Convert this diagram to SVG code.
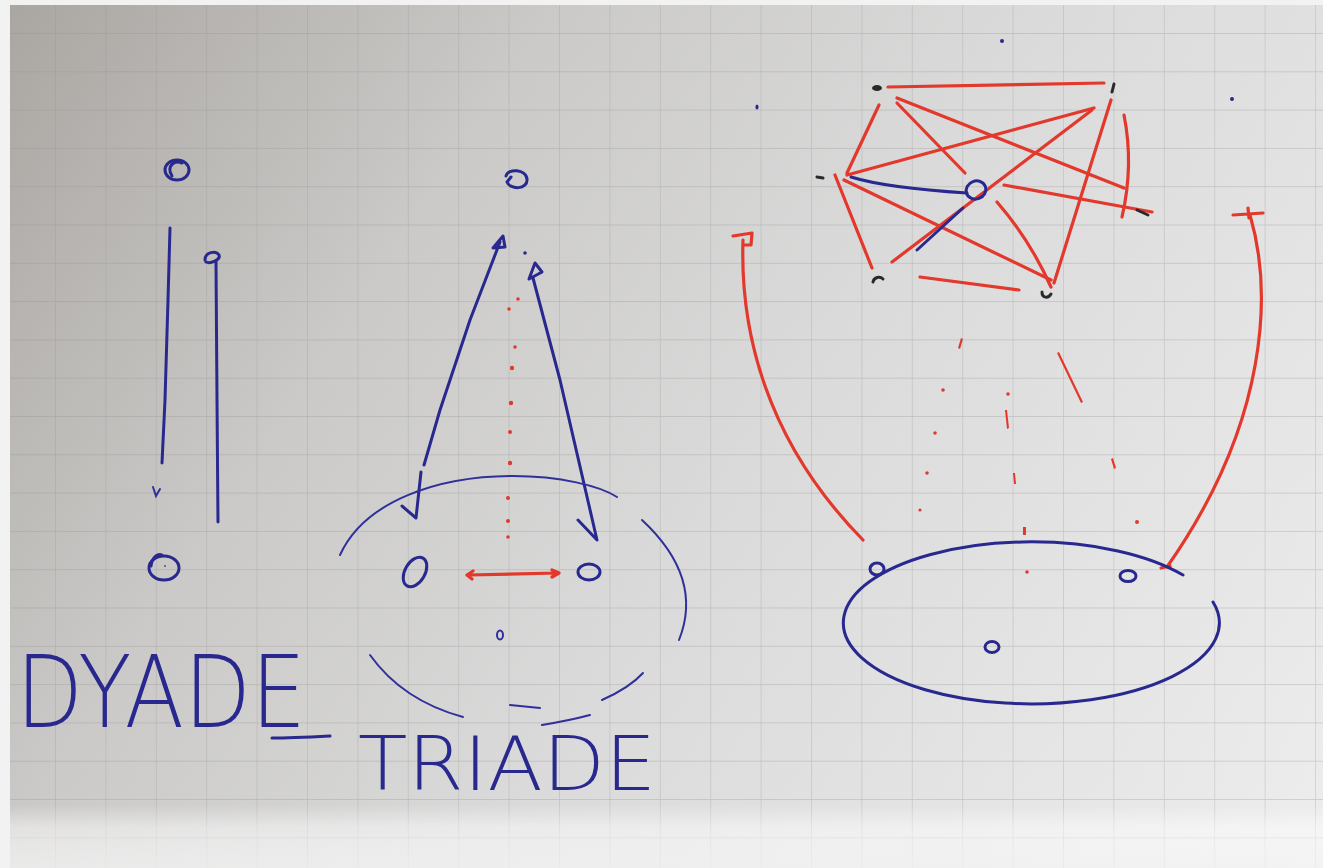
<svg xmlns="http://www.w3.org/2000/svg" width="1323" height="868" viewBox="0 0 1323 868">
<defs>
<linearGradient id="paper" x1="0" y1="0" x2="1323" y2="868" gradientUnits="userSpaceOnUse">
<stop offset="0" stop-color="#a9a5a1"/>
<stop offset="0.3" stop-color="#cbcac8"/>
<stop offset="0.55" stop-color="#dadada"/>
<stop offset="1" stop-color="#ededed"/>
</linearGradient>
<linearGradient id="fold" x1="0" y1="805" x2="0" y2="868" gradientUnits="userSpaceOnUse">
<stop offset="0" stop-color="#ffffff" stop-opacity="0"/>
<stop offset="0.35" stop-color="#ffffff" stop-opacity="0.45"/>
<stop offset="1" stop-color="#f4f4f4" stop-opacity="0.75"/>
</linearGradient>
<pattern id="grid" x="4.6" y="33" width="50.4" height="38.3" patternUnits="userSpaceOnUse">
<path d="M0,0 V38.3 M0,0 H50.4" fill="none" stroke="#8e8e8e" stroke-opacity="0.4" stroke-width="1.3"/>
</pattern>
<style>
.blue{fill:none;stroke:#28288f;stroke-width:3;stroke-linecap:round;stroke-linejoin:round}
.thin{fill:none;stroke:#30309a;stroke-width:2;stroke-linecap:round}
.red{fill:none;stroke:#e3382c;stroke-width:3.2;stroke-linecap:round;stroke-linejoin:round}
.reddot{fill:#e3382c}
.blk{fill:none;stroke:#2a2a2a;stroke-width:3;stroke-linecap:round}
.bdot{fill:#28288f}
.hand{font-family:"DejaVu Sans","Liberation Sans",sans-serif;font-weight:200;fill:#28288f}
</style>
</defs>
<rect width="1323" height="868" fill="#f2f2f2"/>
<rect x="10" y="5" width="1313" height="863" fill="url(#paper)"/>
<rect x="10" y="5" width="1313" height="863" fill="url(#grid)"/>
<rect x="10" y="805" width="1313" height="63" fill="url(#fold)"/>

<g id="connectors">
  <!-- dyade -->
  <path class="blue" d="M170,228 L168,300 L165,400 L162,463"/>
  <path class="thin" d="M153,487 L156,496 L160,489"/>
  <path class="blue" d="M216,262 L217,400 L218,522"/>
  <path class="blue" d="M205,260 C205,252 216,250 219,255 C221,260 210,264 206,262" stroke-width="2.5"/>
  <!-- triade arrows -->
  <path class="blue" d="M500,242 L470,320 L440,410 L424,465"/>
  <path class="blue" d="M421,472 L416,518 L402,506"/>
  <path class="blue" d="M493,248 L503,236 L505,247 Z" fill="#28288f"/>
  <path class="blue" d="M533,278 L560,380 L597,540 L578,520"/>
  <path class="blue" d="M529,279 L535,263 L542,272 Z"/>
  <circle class="bdot" cx="525" cy="253" r="1.8"/>
  <!-- triade red dotted -->
  <g class="reddot">
    <circle cx="518" cy="299" r="1.8"/><circle cx="509" cy="309" r="1.8"/>
    <circle cx="515" cy="347" r="1.8"/><circle cx="512" cy="368" r="2.2"/>
    <circle cx="511" cy="403" r="2.2"/><circle cx="510" cy="432" r="2"/>
    <circle cx="510" cy="463" r="2.2"/><circle cx="508" cy="498" r="2"/>
    <circle cx="508" cy="521" r="2"/><circle cx="508" cy="537" r="1.8"/>
  </g>
  <path class="red" d="M468,575 L558,573 M473,571 L467,575 L472,579 M552,570 L559,573 L552,577"/>
  <!-- triade dashed group ellipse -->
  <path class="thin" d="M340,555 C365,500 440,476 513,476 C560,476 600,486 617,497"/>
  <path class="thin" d="M642,520 C685,560 695,600 679,640"/>
  <path class="thin" d="M370,655 C395,690 430,708 463,717"/>
  <path class="thin" d="M510,705 L540,708"/>
  <path class="thin" d="M542,725 C560,722 575,719 590,715"/>
  <path class="thin" d="M602,700 C620,692 633,684 643,673"/>
  <!-- network red edges -->
  <path class="red" d="M888,87 L1104,83"/>
  <path class="red" d="M879,105 L847,173"/>
  <path class="red" d="M897,98 L1124,188"/>
  <path class="red" d="M897,103 L965,173"/>
  <path class="red" d="M847,175 L1094,108"/>
  <path class="red" d="M892,262 L1092,110"/>
  <path class="red" d="M1111,100 L1054,283"/>
  <path class="red" d="M1124,115 Q1134,165 1122,217"/>
  <path class="red" d="M1004,185 L1152,212"/>
  <path class="red" d="M844,180 L1051,280"/>
  <path class="red" d="M835,175 L872,268"/>
  <path class="red" d="M920,277 L1019,290"/>
  <path class="red" d="M997,202 Q1030,240 1051,287"/>
  <!-- blue strokes in network -->
  <path class="blue" d="M851,177 C880,186 920,190 967,193" stroke-width="2.6"/>
  <path class="blue" d="M963,208 L917,250" stroke-width="2.6"/>
  <!-- big red arcs -->
  <path class="red" d="M743,240 C740,330 765,440 863,540"/>
  <path class="red" d="M733,236 L752,233 L751,245 L744,245"/>
  <path class="red" d="M1250,215 C1272,290 1270,420 1167,567 M1161,568 L1170,566"/>
  <path class="red" d="M1233,215 L1263,213 M1248,208 L1249,218"/>
  <!-- red dotted in network section -->
  <g class="reddot">
    <path d="M958,348 L961,338 L963,339 L960,349 Z"/>
    <circle cx="943" cy="390" r="1.8"/>
    <circle cx="935" cy="433" r="1.8"/>
    <circle cx="927" cy="473" r="1.8"/>
    <circle cx="920" cy="510" r="1.6"/>
    <circle cx="1008" cy="394" r="1.8"/>
    <path d="M1005,410 L1007,410 L1009,428 L1007,429 Z"/>
    <path d="M1013,473 L1015,473 L1016,484 L1014,484 Z"/>
    <path d="M1023,527 L1026,527 L1026,535 L1023,535 Z"/>
    <circle cx="1027" cy="572" r="1.8"/>
    <path d="M1057,353 L1059,352 L1083,402 L1081,403 Z"/>
    <path d="M1111,459 L1113,458 L1116,468 L1114,469 Z"/>
    <circle cx="1137" cy="522" r="2"/>
  </g>
  <!-- bottom group ellipse -->
  <path class="blue" d="M1213,602 A188,81 0 1 1 1183,575" stroke-width="2.6"/>
  <!-- dash after DYADE -->
  <path class="blue" d="M272,738 C290,738 310,737 330,736" stroke-width="2.6"/>
</g>

<g id="node-dyade-top"><ellipse class="blue" cx="177" cy="170" rx="12" ry="10"/><path class="blue" d="M172,176 C166,166 174,160 182,163" stroke-width="2.2"/></g>
<g id="node-dyade-bottom"><ellipse class="blue" cx="164" cy="568" rx="15" ry="12"/><path class="blue" d="M151,566 C152,557 158,553 162,555" stroke-width="2.2"/><circle cx="165" cy="566" r="1" fill="#555"/></g>
<g id="node-triade-top"><path class="blue" d="M506,176 C508,168 526,169 527,179 C528,190 510,190 507,182 L511,177" stroke-width="2.4"/></g>
<g id="node-triade-left"><ellipse class="blue" cx="415" cy="572" rx="10" ry="16" transform="rotate(30 415 572)"/></g>
<g id="node-triade-right"><ellipse class="blue" cx="589" cy="572" rx="11" ry="8"/></g>
<g id="node-triade-bottom"><ellipse class="thin" cx="500" cy="635" rx="3" ry="4.5"/></g>

<g id="node-net-a"><ellipse cx="877" cy="88" rx="5" ry="3" fill="#2a2a2a"/></g>
<g id="node-net-b"><path class="blk" d="M1114,84 L1112,92"/></g>
<g id="node-net-c"><path class="blk" d="M817,177 L823,178"/></g>
<g id="node-net-d"><path class="blk" d="M1137,210 L1148,215"/></g>
<g id="node-net-e"><path class="blk" d="M873,282 C874,277 880,276 883,279" stroke-width="2.6"/></g>
<g id="node-net-f"><path class="blk" d="M1042,292 C1042,298 1048,299 1051,294" stroke-width="2.6"/></g>
<g id="node-net-center"><ellipse class="blue" cx="976" cy="190" rx="10" ry="9" transform="rotate(-20 976 190)"/></g>
<g id="node-dot-1"><circle class="bdot" cx="1002" cy="41" r="2"/></g>
<g id="node-dot-2"><ellipse class="bdot" cx="757" cy="107" rx="1.6" ry="2.6"/></g>
<g id="node-dot-3"><circle class="bdot" cx="1232" cy="99" r="2"/></g>

<g id="node-group-1"><ellipse class="blue" cx="877" cy="569" rx="7" ry="6" stroke-width="2.5"/></g>
<g id="node-group-2"><ellipse class="blue" cx="1128" cy="576" rx="8" ry="5.5" stroke-width="2.5"/></g>
<g id="node-group-3"><ellipse class="blue" cx="992" cy="647" rx="7" ry="5.5" stroke-width="2.5"/></g>

<g id="labels">
  <text class="hand" x="16" y="727" font-size="100" textLength="290" lengthAdjust="spacingAndGlyphs">DYADE</text>
  <text class="hand" x="358" y="790" font-size="74" textLength="298" lengthAdjust="spacingAndGlyphs">TRIADE</text>
</g>
</svg>
